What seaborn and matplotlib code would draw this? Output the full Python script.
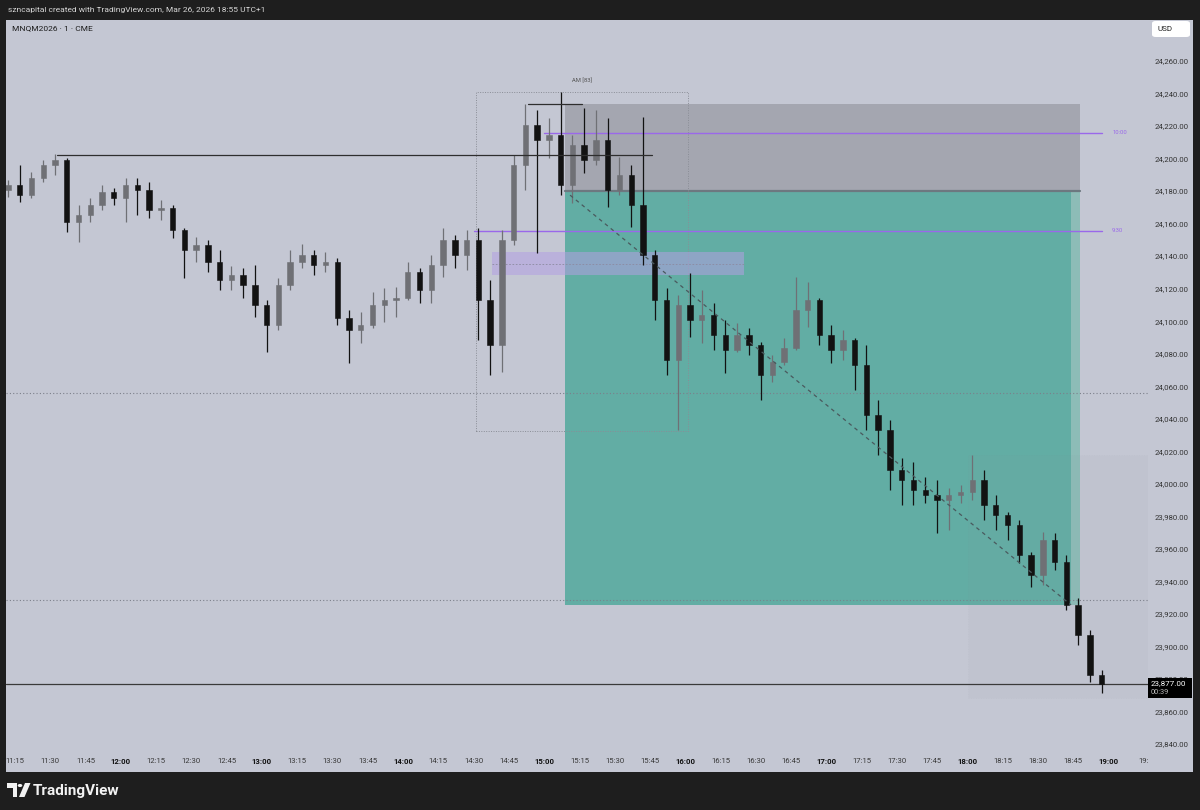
import numpy as np
import matplotlib
matplotlib.use("Agg")
import matplotlib.pyplot as plt
import seaborn as sns
from matplotlib.patches import Rectangle, Polygon, Circle, FancyBboxPatch

# ---------------- data (5-minute OHLC) ----------------
bar_times = ["11:10", "11:15", "11:20", "11:25", "11:30", "11:35", "11:40", "11:45", "11:50", "11:55",
             "12:00", "12:05", "12:10", "12:15", "12:20", "12:25", "12:30", "12:35", "12:40", "12:45",
             "12:50", "12:55", "13:00", "13:05", "13:10", "13:15", "13:20", "13:25", "13:30", "13:35",
             "13:40", "13:45", "13:50", "13:55", "14:00", "14:05", "14:10", "14:15", "14:20", "14:25",
             "14:30", "14:35", "14:40", "14:45", "14:50", "14:55", "15:00", "15:05", "15:10", "15:15",
             "15:20", "15:25", "15:30", "15:35", "15:40", "15:45", "15:50", "15:55", "16:00", "16:05",
             "16:10", "16:15", "16:20", "16:25", "16:30", "16:35", "16:40", "16:45", "16:50", "16:55",
             "17:00", "17:05", "17:10", "17:15", "17:20", "17:25", "17:30", "17:35", "17:40", "17:45",
             "17:50", "17:55", "18:00", "18:05", "18:10", "18:15", "18:20", "18:25", "18:30", "18:35",
             "18:40", "18:45", "18:50", "18:55"]
opens = [24180.5, 24183.75, 24177.5, 24188, 24196, 24199, 24161, 24165.25, 24171.5, 24179.5,
         24175.75, 24183.75, 24180.5, 24168.5, 24169.5, 24156, 24143.75, 24146.75, 24136.5, 24125.25,
         24128.5, 24122.25, 24110, 24097.5, 24122.25, 24136.5, 24140.75, 24134.5, 24136.5, 24102,
         24094.5, 24097.5, 24110, 24113, 24114.25, 24130.25, 24119.25, 24134.5, 24150, 24140.75,
         24150, 24113, 24085.25, 24150, 24196, 24220.5, 24211.5, 24214.5, 24183.75, 24208.25,
         24199, 24211.5, 24180.5, 24190, 24171.5, 24140.75, 24113, 24076, 24110, 24100.75,
         24103.75, 24091.5, 24082.25, 24091.5, 24085.25, 24067, 24075, 24083.5, 24107, 24113,
         24091.5, 24082.25, 24088.5, 24073, 24042.25, 24033, 24008.5, 24002.25, 23996.25, 23993,
         23990, 23993, 23995, 24002.25, 23987, 23980.75, 23974.5, 23956.25, 23944, 23965.5,
         23952, 23925.5, 23907, 23882.5]
highs = [24186.75, 24196, 24191.75, 24199, 24202.75, 24200.25, 24171.5, 24175.75, 24183.75, 24182,
         24188, 24188, 24185.5, 24174.5, 24171.5, 24157.25, 24151.75, 24150, 24143.75, 24134,
         24132.75, 24134.5, 24113, 24126.5, 24143.75, 24147.5, 24143.75, 24142.5, 24138.75, 24107,
         24105.5, 24118, 24120.5, 24121, 24136.5, 24132.75, 24140.75, 24157.25, 24153, 24156,
         24157.25, 24125.25, 24156, 24202.25, 24233.5, 24230, 24225, 24241, 24214.5, 24231,
         24230, 24225, 24201, 24196, 24225.5, 24143.75, 24120.5, 24116, 24129.5, 24119.25,
         24111.25, 24100.75, 24099, 24095.75, 24087.25, 24079.25, 24089.5, 24127, 24124, 24114.25,
         24097.5, 24094.5, 24089.5, 24085.25, 24051.5, 24039.25, 24015.75, 24013.5, 24004, 24002.25,
         23997.5, 23999.25, 24017.75, 24008.5, 23993, 23982.5, 23977.75, 23958, 23970.25, 23969.75,
         23956.25, 23929.75, 23910, 23885.5]
lows = [24176.25, 24173.25, 24175.75, 24185.5, 24190, 24154.75, 24148.75, 24161, 24168.5, 24171.5,
        24161, 24165.25, 24163.5, 24162.25, 24151, 24126.5, 24136.5, 24130.25, 24119.25, 24119.25,
        24114.25, 24102.5, 24081, 24094.5, 24119.25, 24132.75, 24128.5, 24130.25, 24097.5, 24074.25,
        24086.5, 24095.75, 24099.5, 24102.5, 24113, 24111.25, 24111.25, 24127, 24132.75, 24131.5,
        24088.5, 24067, 24068.75, 24146.75, 24180.5, 24142, 24200.25, 24177.5, 24172.75, 24191.25,
        24196, 24170.25, 24177.5, 24158, 24134.5, 24100.75, 24067, 24033, 24090.25, 24086.5,
        24082.25, 24068, 24081, 24079.25, 24051.5, 24062.5, 24073, 24082.25, 24096.5, 24085.25,
        24074.25, 24076, 24057.75, 24033, 24017.75, 23996.25, 23987, 23987, 23988.25, 23969.75,
        23971.5, 23988.25, 23990, 23977.75, 23971.5, 23965.5, 23951.25, 23936.5, 23937.75, 23947,
        23922.5, 23900.75, 23878, 23871.25]
closes = [24183.75, 24177.5, 24188, 24196, 24199, 24161, 24165.25, 24171.5, 24179.5, 24175.75,
          24183.75, 24180.5, 24168.5, 24169.5, 24156, 24143.75, 24146.75, 24136.5, 24125.25, 24128.5,
          24122.25, 24110, 24097.5, 24122.25, 24136.5, 24140.75, 24134.5, 24136.5, 24102, 24094.5,
          24097.5, 24110, 24113, 24114.25, 24130.25, 24119.25, 24134.5, 24150, 24140.75, 24150,
          24113, 24085.25, 24150, 24196, 24220.5, 24211.5, 24214.5, 24183.75, 24208.25, 24199,
          24211.5, 24180.5, 24190, 24171.5, 24140.75, 24113, 24076, 24110, 24100.75, 24103.75,
          24091.5, 24082.25, 24091.5, 24085.25, 24067, 24075, 24083.5, 24107, 24113, 24091.5,
          24082.25, 24088.5, 24073, 24042.25, 24033, 24008.5, 24002.25, 23996.25, 23993, 23990,
          23993, 23995, 24002.25, 23987, 23980.75, 23974.5, 23956.25, 23944, 23965.5, 23952,
          23925.5, 23907, 23882.5, 23877]

time_ticks = ["11:15", "11:30", "11:45", "12:00", "12:15", "12:30", "12:45", "13:00", "13:15", "13:30",
              "13:45", "14:00", "14:15", "14:30", "14:45", "15:00", "15:15", "15:30", "15:45", "16:00",
              "16:15", "16:30", "16:45", "17:00", "17:15", "17:30", "17:45", "18:00", "18:15", "18:30",
              "18:45", "19:00", "19:15"]
price_ticks = [23840, 23860, 23880, 23900, 23920, 23940, 23960, 23980, 24000, 24020, 24040, 24060,
               24080, 24100, 24120, 24140, 24160, 24180, 24200, 24220, 24240, 24260]

# drawings
prev_high = {"start": "11:33", "end": "15:46", "price": 24202.25}
am_high = {"start": "14:53", "end": "15:16", "price": 24233.5}
am_box = {"start": "14:31", "end": "16:01", "top": 24241.0, "bottom": 24032.75}
position = {"start": "15:09", "end": "18:48", "tp_end": "18:44",
            "stop": 24233.5, "entry": 24180.0, "target": 23925.5}
trend = {"times": ["15:11", "18:44"], "prices": [24177.5, 23925.5]}
ny_open = {"start": "14:30", "end": "18:57", "price": 24155.5, "label": "9:30"}
ten_am = {"start": "15:00", "end": "18:57", "price": 24216.0, "label": "10:00"}
fvg = {"start": "14:38", "end": "16:25", "top": 24142.5, "bottom": 24128.25}
dotted_levels = [24056.0, 23928.5]
right_box = {"start": "18:00", "top": 24017.75, "bottom": 23868.25}
last_price = 23877.0
countdown = "00:39"

# ---------------- style ----------------
sns.set_theme(style="white")
plt.rcParams['font.family'] = ['Roboto', 'DejaVu Sans']

W, H = 1200, 810
BG = '#c4c7d3'
FRAME = '#1e1e1e'
UP = '#6f7075'
DOWN = '#121212'


def m_of(t):
    h, mm = t.split(':')
    return int(h) * 60 + int(mm) - (11 * 60 + 15)


def fx(px):
    return px / W


def fy(py):
    return 1 - py / H


fig = plt.figure(figsize=(12, 8.1), dpi=100)
fig.patch.set_facecolor(FRAME)
fig.patches.append(Rectangle((fx(6), fy(772)), (1193 - 6) / W, (772 - 20) / H,
                             transform=fig.transFigure, facecolor=BG, edgecolor='none', zorder=-5))

ax = fig.add_axes([fx(6), fy(752), (1148 - 6) / W, (752 - 20) / H])
ax.set_zorder(1)
ax.set_facecolor(BG)
for s in ax.spines.values():
    s.set_visible(False)

# ---------------- drawings behind candles ----------------
p0, p1 = m_of(position["start"]), m_of(position["end"])
ptp = m_of(position["tp_end"])
ax.add_patch(Rectangle((p0, position["entry"]), p1 - p0, position["stop"] - position["entry"],
                       facecolor='#a4a6b0', edgecolor='none', zorder=1))
ax.add_patch(Rectangle((p0, position["target"]), ptp - p0, position["entry"] - position["target"],
                       facecolor='#62ada4', edgecolor='none', zorder=1))
ax.add_patch(Rectangle((ptp, position["target"]), p1 - ptp, position["entry"] - position["target"],
                       facecolor='#8dbcb7', edgecolor='none', zorder=1))
ax.plot([p0, p1], [position["entry"], position["entry"]], color='#6d7880', lw=1.6, zorder=2)

rb0 = m_of(right_box["start"])
ax.add_patch(Rectangle((rb0, right_box["bottom"]), 500 - rb0, right_box["top"] - right_box["bottom"],
                       facecolor='#8a8d99', alpha=0.06, edgecolor='#8c8f99', lw=0.6,
                       linestyle=(0, (1, 2)), zorder=1))

a0, a1 = m_of(am_box["start"]), m_of(am_box["end"])
ax.add_patch(Rectangle((a0, am_box["bottom"]), a1 - a0, am_box["top"] - am_box["bottom"],
                       facecolor='none', edgecolor='#8a8d96', lw=0.7, linestyle=(0, (1, 1.5)), zorder=3))
ax.text((a0 + a1) / 2, am_box["top"] + 5, "AM [83]", fontsize=4.2, color='#555555',
        ha='center', va='bottom', zorder=8)

for lvl in dotted_levels:
    ax.axhline(lvl, color='#7c7f8a', lw=0.8, linestyle=(0, (1, 2)), zorder=2)
ax.axhline(last_price, color='#3a3a3a', lw=0.9, zorder=2)

f0, f1 = m_of(fvg["start"]), m_of(fvg["end"])
ax.add_patch(Rectangle((f0, fvg["bottom"]), f1 - f0, fvg["top"] - fvg["bottom"],
                       facecolor='#b3a0e2', alpha=0.55, edgecolor='none', zorder=3))
ax.plot([f0, f1], [(fvg["top"] + fvg["bottom"]) / 2] * 2, color='#8c8aa0', lw=0.6,
        linestyle=(0, (2, 2)), zorder=3)

for ln in (ny_open, ten_am):
    s0, s1 = m_of(ln["start"]), m_of(ln["end"])
    ax.plot([s0, s1], [ln["price"], ln["price"]], color='#9a68ea', lw=1.0, zorder=4)
    ax.text(s1 + 4.5, ln["price"], ln["label"], fontsize=4.2, color='#9a68ea',
            ha='left', va='center', zorder=8)

# ---------------- candles ----------------
x = np.array([m_of(t) for t in bar_times]) + 2.0
o = np.array(opens)
h = np.array(highs)
l = np.array(lows)
c = np.array(closes)
cols = np.where(c >= o, UP, DOWN)
ax.vlines(x, l, h, colors=cols, linewidth=0.9, zorder=5)
body_lo = np.minimum(o, c)
body_h = np.maximum(np.abs(c - o), 0.7)
ax.bar(x, body_h, bottom=body_lo, width=2.3, color=cols, edgecolor=cols, linewidth=0.4, zorder=6)

# lines on top
ax.plot([m_of(prev_high["start"]), m_of(prev_high["end"])], [prev_high["price"]] * 2,
        color='#2e2e2e', lw=0.9, zorder=7)
ax.plot([m_of(am_high["start"]), m_of(am_high["end"])], [am_high["price"]] * 2,
        color='#2e2e2e', lw=0.9, zorder=7)
sns.lineplot(x=[m_of(t) for t in trend["times"]], y=trend["prices"], ax=ax,
             color='#4a5a5e', lw=0.9, linestyle=(0, (3, 3)), zorder=7)

# ---------------- axes ----------------
xmin = (6 - 15) / 2.352
xmax = (1148 - 15) / 2.352
ax.set_xlim(xmin, xmax)
ax.set_ylim(23835.1, 24285.2)

tick_pos = [m_of(t) for t in time_ticks]
tick_lab = list(time_ticks)
tick_lab[-1] = "19:"
ax.set_xticks(tick_pos)
ax.set_xticklabels(tick_lab)
ax.tick_params(axis='x', length=0, pad=4.5, labelsize=5.6, colors='#3a3a3a')
for lab in ax.get_xticklabels():
    if lab.get_text().endswith(":00"):
        lab.set_fontweight('bold')
        lab.set_color('#111111')

ax.yaxis.tick_right()
ax.set_yticks(price_ticks)
ax.set_yticklabels([f"{p:,.2f}" for p in price_ticks])
ax.tick_params(axis='y', length=0, pad=5, labelsize=5.6, colors='#333333')
ax.set_xlabel("")
ax.set_ylabel("")
ax.grid(False)

# current price label (drawn above the axes)
fig.patches.append(Rectangle((fx(1148), fy(698)), 44 / W, 20 / H, transform=fig.transFigure,
                             facecolor='#000000', edgecolor='none', zorder=10))
fig.text(fx(1151), fy(683.5), f"{last_price:,.2f}", fontsize=5.8, color='white',
         ha='left', va='center', zorder=21)
fig.text(fx(1151), fy(692.5), countdown, fontsize=5.3, color='#bbbbbb', ha='left', va='center', zorder=21)

# ---------------- header / footer ----------------
fig.text(fx(8), fy(10), "szncapital created with TradingView.com, Mar 26, 2026 18:55 UTC+1",
         fontsize=6.0, color='#d6d6d6', ha='left', va='center')
fig.text(fx(12), fy(28), "MNQM2026 \u00b7 1 \u00b7 CME", fontsize=6.0, color='#1c1c1c',
         ha='left', va='center', zorder=20)
fig.patches.append(FancyBboxPatch((fx(1152), fy(37)), 38 / W, 16 / H,
                                  boxstyle="round,pad=0,rounding_size=0.003",
                                  transform=fig.transFigure, facecolor='white', edgecolor='none', zorder=10))
fig.text(fx(1158), fy(29), "USD", fontsize=5.8, color='#222222', ha='left', va='center', zorder=21)

# TradingView logo
logo = '#f2f2f2'
fig.patches.append(Polygon([(fx(7), fy(783)), (fx(17), fy(783)), (fx(17), fy(797)), (fx(12.5), fy(797)),
                            (fx(12.5), fy(788)), (fx(7), fy(788))], closed=True,
                           transform=fig.transFigure, facecolor=logo, edgecolor='none', zorder=10))
fig.patches.append(Circle((fx(20), fy(785.5)), 2.3 / W, transform=fig.transFigure,
                          facecolor=logo, edgecolor='none', zorder=10))
fig.patches.append(Polygon([(fx(25), fy(783)), (fx(30.5), fy(783)), (fx(24.5), fy(797)), (fx(19), fy(797))],
                           closed=True, transform=fig.transFigure, facecolor=logo, edgecolor='none', zorder=10))
fig.text(fx(33), fy(791), "TradingView", fontsize=11, fontweight='bold', color=logo,
         ha='left', va='center')

fig.savefig("out.png", dpi=100, facecolor=FRAME)
